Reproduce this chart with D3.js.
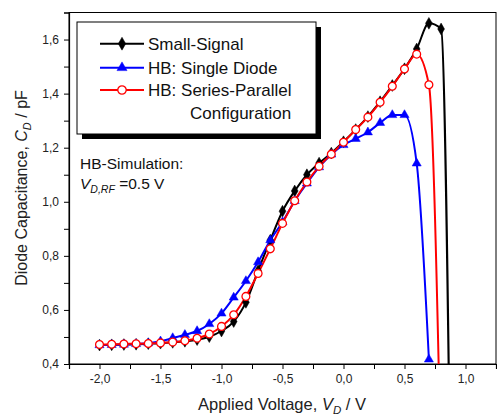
<!DOCTYPE html>
<html><head><meta charset="utf-8">
<script src="https://cdn.jsdelivr.net/npm/d3@7"></script>
<style>body{margin:0;background:#fff}svg{display:block}text{font-family:"Liberation Sans",Arial,sans-serif}</style>
</head><body><svg id="c" width="497" height="414"></svg>
<script>
const voltage = [-2.0,-1.9,-1.8,-1.7,-1.6,-1.5,-1.4,-1.3,-1.2,-1.1,-1.0,-0.9,-0.8,-0.7,-0.6,-0.5,-0.4,-0.3,-0.2,-0.1,0.0,0.1,0.2,0.3,0.4,0.5,0.6,0.7,0.8,0.9];
const smallSignal = [0.470,0.471,0.472,0.473,0.475,0.477,0.480,0.484,0.490,0.501,0.522,0.557,0.628,0.745,0.858,0.965,1.040,1.100,1.143,1.180,1.222,1.267,1.315,1.370,1.430,1.492,1.565,1.660,1.639,-1.0];
const singleDiode = [0.470,0.471,0.472,0.474,0.477,0.484,0.496,0.508,0.522,0.548,0.587,0.646,0.707,0.777,0.858,0.925,1.003,1.068,1.128,1.175,1.210,1.233,1.257,1.292,1.321,1.321,1.142,0.417];
const seriesParallel = [0.472,0.473,0.474,0.475,0.476,0.478,0.481,0.486,0.495,0.511,0.539,0.582,0.650,0.735,0.826,0.920,1.004,1.073,1.131,1.176,1.220,1.267,1.313,1.368,1.427,1.491,1.546,1.433,0.0];
const xTicks = [-2.0,-1.5,-1.0,-0.5,0.0,0.5,1.0];
const yTicks = [0.4,0.6,0.8,1.0,1.2,1.4,1.6];
const seriesNames = ["Small-Signal","HB: Single Diode","HB: Series-Parallel"];

const svg = d3.select("#c");
const L=69, R=496, T=12.5, B=364;
const x = d3.scaleLinear().domain([-2.25,1.25]).range([L,R]);
const y = d3.scaleLinear().domain([0.4,1.7]).range([B,T]);
const fmt = v => d3.format(".1f")(v).replace(".",",").replace("\u2212","-");

svg.append("defs").append("clipPath").attr("id","clip").append("rect")
  .attr("x",L).attr("y",T).attr("width",R-L).attr("height",B-T);

// frame
svg.append("rect").attr("x",L).attr("y",T).attr("width",R-L).attr("height",B-T)
  .attr("fill","none").attr("stroke","#000").attr("stroke-width",1);

// axes
const xAx = svg.append("g").attr("transform",`translate(0,${B})`)
  .call(d3.axisBottom(x).tickValues(d3.range(-2.25,1.26,0.25)).tickSize(5).tickPadding(5)
    .tickFormat(v => xTicks.some(t=>Math.abs(t-v)<1e-6) ? fmt(v) : ""));
const yAx = svg.append("g").attr("transform",`translate(${L},0)`)
  .call(d3.axisLeft(y).tickValues(d3.range(0.4,1.701,0.1)).tickSize(5).tickPadding(5)
    .tickFormat(v => yTicks.some(t=>Math.abs(t-v)<1e-6) ? fmt(v) : ""));
[xAx,yAx].forEach(g=>{
  g.select(".domain").attr("stroke","#000").attr("stroke-width",1.2);
  g.selectAll(".tick line").attr("stroke","#000").attr("stroke-width",1);
  g.selectAll("text").attr("font-size",12).attr("fill","#222").attr("font-family","Liberation Sans, Arial, sans-serif");
});

// axis labels
const xl = svg.append("text").attr("x",282).attr("y",410).attr("text-anchor","middle")
  .attr("font-size",16.5).attr("fill","#222").attr("xml:space","preserve");
xl.append("tspan").text("Applied Voltage, ");
xl.append("tspan").attr("font-style","italic").text("V");
xl.append("tspan").attr("font-style","italic").attr("font-size",11.5).attr("dy",4).text("D");
xl.append("tspan").attr("dy",-4).text(" / V");

const yl = svg.append("text").attr("transform","translate(27,188) rotate(-90)").attr("text-anchor","middle")
  .attr("font-size",16).attr("fill","#222").attr("xml:space","preserve");
yl.append("tspan").text("Diode Capacitance, ");
yl.append("tspan").attr("font-style","italic").text("C");
yl.append("tspan").attr("font-style","italic").attr("font-size",11).attr("dy",4).text("D");
yl.append("tspan").attr("dy",-4).text(" / pF");

// series
const plot = svg.append("g").attr("clip-path","url(#clip)");
const series = [
  {vals: smallSignal, color:"#000", sym: d3.symbolDiamond, size: 40, fill:"#000"},
  {vals: singleDiode, color:"#0000ff", sym: d3.symbolTriangle, size: 36, fill:"#0000ff"},
  {vals: seriesParallel, color:"#ff0000", sym: d3.symbolCircle, size: 48, fill:"#fff"}
];
const line = d3.line().x(d=>x(d[0])).y(d=>y(d[1])).curve(d3.curveMonotoneX);
series.forEach(s=>{
  const pts = s.vals.map((v,i)=>[voltage[i],v]);
  plot.append("path").attr("d",line(pts)).attr("fill","none").attr("stroke",s.color).attr("stroke-width",2);
});
series.forEach(s=>{
  const pts = s.vals.map((v,i)=>[voltage[i],v]);
  plot.selectAll(null).data(pts).enter().append("path")
    .attr("transform",d=>`translate(${x(d[0])},${y(d[1])})`)
    .attr("d",d3.symbol().type(s.sym).size(s.size))
    .attr("fill",s.fill).attr("stroke",s.color).attr("stroke-width",s.fill==="#fff"?1.3:0.5);
});

// legend
svg.append("rect").attr("x",82).attr("y",27).attr("width",239).attr("height",112).attr("fill","#000");
svg.append("rect").attr("x",77).attr("y",22).attr("width",239).attr("height",112).attr("fill","#fff").attr("stroke","#000").attr("stroke-width",1);
const ly = [43.7,67.7,90];
series.forEach((s,i)=>{
  svg.append("line").attr("x1",100).attr("x2",144).attr("y1",ly[i]).attr("y2",ly[i]).attr("stroke",s.color).attr("stroke-width",2);
  svg.append("path").attr("transform",`translate(122,${ly[i]})`).attr("d",d3.symbol().type(s.sym).size(s.size+8)())
    .attr("fill",s.fill).attr("stroke",s.color).attr("stroke-width",s.fill==="#fff"?1.3:0.5);
  svg.append("text").attr("x",148).attr("y",ly[i]+6).attr("font-size",17).attr("fill","#111").text(seriesNames[i]);
});
svg.append("text").attr("x",190).attr("y",119).attr("font-size",17).attr("fill","#111").text("Configuration");

// annotation
svg.append("text").attr("x",80).attr("y",169).attr("font-size",15.5).attr("fill","#111").text("HB-Simulation:");
const an = svg.append("text").attr("x",80).attr("y",189).attr("font-size",15.5).attr("fill","#111").attr("xml:space","preserve");
an.append("tspan").attr("font-style","italic").text("V");
an.append("tspan").attr("font-style","italic").attr("font-size",10.5).attr("dy",4).text("D,RF");
an.append("tspan").attr("dy",-4).text(" =0.5 V");
</script></body></html>
